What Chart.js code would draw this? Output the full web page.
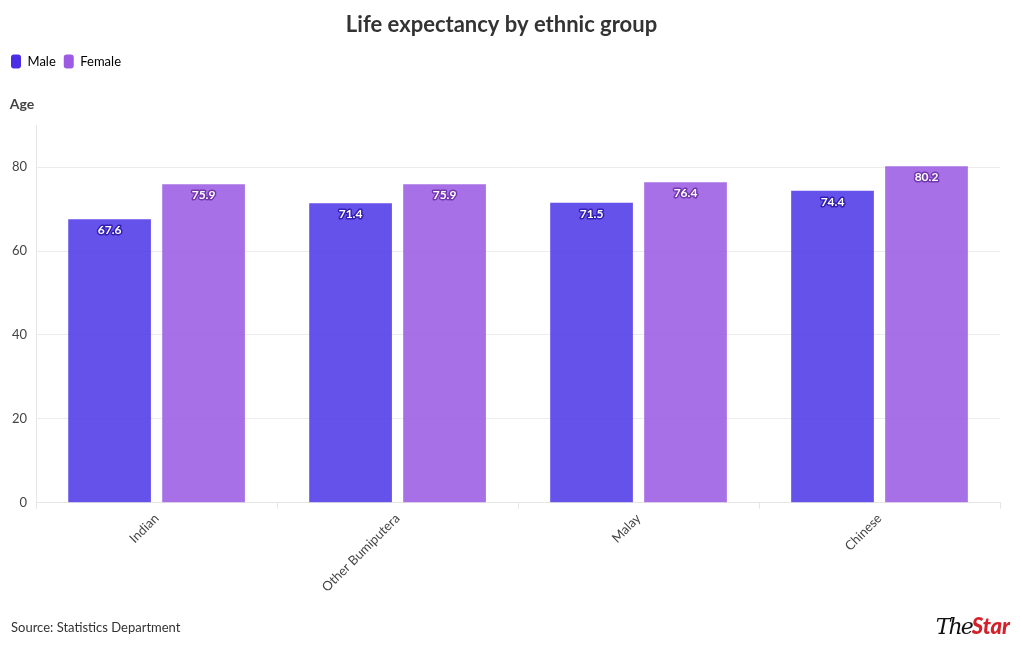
<!DOCTYPE html>
<html>
<head>
<meta charset="utf-8">
<script src="https://cdn.jsdelivr.net/npm/chart.js@4"></script>
<style>
    body { margin: 0; background: #fff; font-family: Lato, "Noto Sans", sans-serif; }
    #wrap { position: relative; width: 1020px; height: 650px; }
    #source { position: absolute; left: 11px; top: 619px; font-size: 13px; color: #333; }
    #logo { position: absolute; right: 10px; top: 612px; font-size: 22px; font-weight: 900; font-style: italic; }
    #logo .the { color: #111; font-family: "DejaVu Serif", serif; font-weight: 400; letter-spacing: -2px; }
    #logo .star { color: #d3202a; }
</style>
</head>
<body>
<div id="wrap">
    <canvas id="lifeChart" width="1020" height="650"></canvas>
    <div id="source">Source: Statistics Department</div>
    <div id="logo"><span class="the">The</span><span class="star">Star</span></div>
</div>
<script>
const groups = ['Indian', 'Other Bumiputera', 'Malay', 'Chinese'];
const maleAge = [67.6, 71.4, 71.5, 74.4];
const femaleAge = [75.9, 75.9, 76.4, 80.2];
const yTicks = [0, 20, 40, 60, 80];

const FONT = 'Lato, "Noto Sans", sans-serif';

// value labels drawn inside the top of each bar
const barLabels = {
    id: 'barLabels',
    afterDatasetsDraw(chart) {
        const ctx = chart.ctx;
        ctx.save();
        ctx.font = 'bold 12px ' + FONT;
        ctx.textAlign = 'center';
        ctx.textBaseline = 'middle';
        ctx.lineJoin = 'round';
        chart.data.datasets.forEach((ds, i) => {
            const meta = chart.getDatasetMeta(i);
            meta.data.forEach((bar, j) => {
                const text = ds.data[j].toFixed(1);
                const y = bar.y + 11;
                ctx.lineWidth = 3;
                ctx.strokeStyle = i === 0 ? 'rgba(45,25,170,0.9)' : 'rgba(110,50,170,0.9)';
                ctx.strokeText(text, bar.x, y);
                ctx.fillStyle = '#fff';
                ctx.fillText(text, bar.x, y);
            });
        });
        ctx.restore();
    }
};

new Chart(document.getElementById('lifeChart').getContext('2d'), {
    type: 'bar',
    data: {
        labels: groups,
        datasets: [
            {
                label: 'Male',
                data: maleAge,
                backgroundColor: 'rgba(76, 53, 230, 0.86)',
                categoryPercentage: 0.78,
                barPercentage: 0.88
            },
            {
                label: 'Female',
                data: femaleAge,
                backgroundColor: 'rgba(152, 88, 226, 0.86)',
                categoryPercentage: 0.78,
                barPercentage: 0.88
            }
        ]
    },
    options: {
        responsive: false,
        animation: false,
        layout: { padding: { left: 3, right: 20, top: 8, bottom: 53 } },
        plugins: {
            title: {
                display: true,
                text: 'Life expectancy by ethnic group',
                color: '#333',
                font: { family: FONT, size: 22, weight: 'bold' },
                padding: { top: 4, bottom: 8 }
            },
            subtitle: {
                display: true,
                text: '  Age',
                align: 'start',
                position: 'top',
                weight: 500,
                color: '#444',
                font: { family: FONT, size: 14, weight: 'bold' },
                padding: { top: 18, bottom: 12 }
            },
            legend: {
                align: 'start',
                labels: {
                    boxWidth: 10,
                    boxHeight: 14,
                    useBorderRadius: true,
                    borderRadius: 3,
                    padding: 8,
                    color: '#333',
                    font: { family: FONT, size: 13 },
                    generateLabels(chart) {
                        const legendColors = ['#4a2ee6', '#9b5ce3'];
                        return chart.data.datasets.map((ds, i) => ({
                            text: ds.label,
                            fillStyle: legendColors[i],
                            strokeStyle: legendColors[i],
                            lineWidth: 0,
                            borderRadius: 3,
                            datasetIndex: i
                        }));
                    }
                }
            },
            tooltip: { enabled: false }
        },
        scales: {
            x: {
                grid: { offset: true, drawOnChartArea: false, tickLength: 6, color: '#e6e6e6' },
                border: { color: '#e6e6e6' },
                ticks: {
                    color: '#444',
                    font: { family: FONT, size: 13 },
                    maxRotation: 45,
                    minRotation: 45,
                    padding: 2
                }
            },
            y: {
                min: 0,
                max: 90,
                afterBuildTicks(axis) {
                    axis.ticks = yTicks.map(v => ({ value: v }));
                },
                grid: { color: '#ececec', drawTicks: false },
                border: { color: '#e6e6e6' },
                ticks: {
                    color: '#444',
                    font: { family: FONT, size: 13 },
                    padding: 9
                }
            }
        }
    },
    plugins: [barLabels]
});
</script>
</body>
</html>
